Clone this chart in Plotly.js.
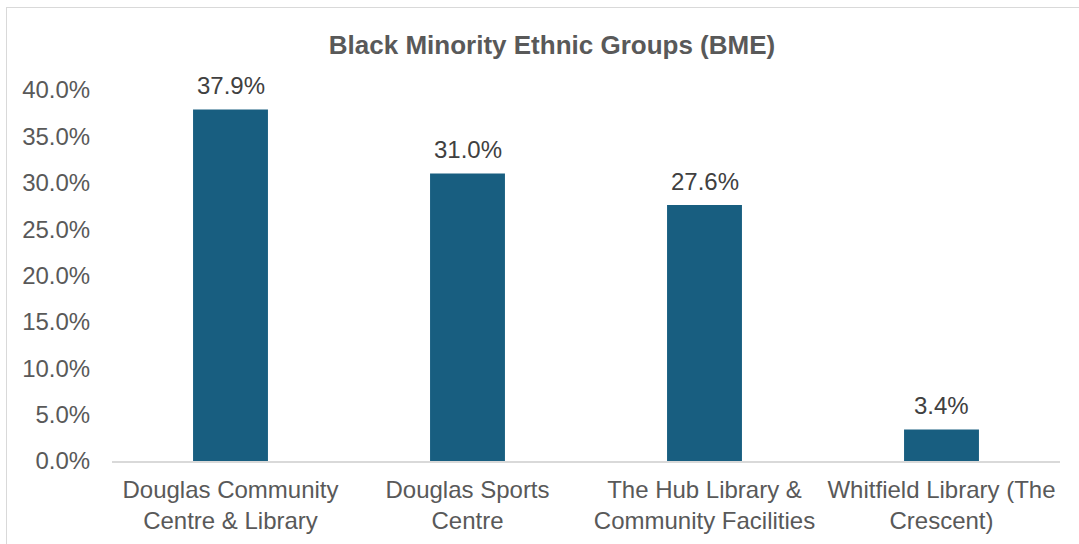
<!DOCTYPE html>
<html>
<head>
<meta charset="utf-8">
<script src="https://cdn.plot.ly/plotly-3.0.1.min.js"></script>
<style>
html,body{margin:0;padding:0;background:#fff;}
#wrap{position:relative;width:1079px;height:544px;overflow:hidden;}
#chart{position:absolute;left:0;top:0;width:1079px;height:544px;}
#frame{position:absolute;left:6px;top:7px;width:1200px;height:600px;border:1px solid #d9d9d9;pointer-events:none;}
</style>
</head>
<body>
<div id="wrap"><div id="chart"></div><div id="frame"></div></div>
<script>
const categories = ["Douglas Community<br>Centre & Library", "Douglas Sports<br>Centre", "The Hub Library &<br>Community Facilities", "Whitfield Library (The<br>Crescent)"];
const values = [37.9, 31.0, 27.6, 3.4];
const tickValues = [0, 5, 10, 15, 20, 25, 30, 35, 40];
const tickLabels = ["0.0%", "5.0%", "10.0%", "15.0%", "20.0%", "25.0%", "30.0%", "35.0%", "40.0%"];
const chartTitle = "Black Minority Ethnic Groups (BME)";

const font = "Liberation Sans, Arial, sans-serif";

const trace = {
  type: "bar",
  x: categories,
  y: values,
  marker: {color: "#185e80"},
  hoverinfo: "none"
};

const annotations = values.map((v, i) => ({
  x: categories[i], y: v, xref: "x", yref: "y",
  text: v.toFixed(1) + "%",
  showarrow: false, yanchor: "bottom", yshift: 8,
  font: {family: font, size: 24, color: "#404040"}
}));

const layout = {
  width: 1079, height: 544,
  margin: {l: 112, r: 19, t: 90, b: 83, pad: 0},
  paper_bgcolor: "rgba(0,0,0,0)",
  plot_bgcolor: "rgba(0,0,0,0)",
  bargap: 0.684,
  showlegend: false,
  title: {
    text: "<b>" + chartTitle + "</b>",
    font: {family: font, size: 26, color: "#595959"},
    x: 552 / 1079, xref: "container", xanchor: "center",
    y: 1 - 45 / 544, yref: "container", yanchor: "middle"
  },
  xaxis: {
    showline: true, linecolor: "#d9d9d9", linewidth: 2,
    showgrid: false, zeroline: false,
    ticks: "outside", ticklen: 6, tickcolor: "rgba(0,0,0,0)",
    tickfont: {family: font, size: 24, color: "#595959"}
  },
  yaxis: {
    range: [0, 40], showline: false, showgrid: false, zeroline: false,
    tickmode: "array", tickvals: tickValues, ticktext: tickLabels,
    ticks: "outside", ticklen: 16, tickcolor: "rgba(0,0,0,0)",
    tickfont: {family: font, size: 24, color: "#595959"}
  },
  annotations: annotations
};

Plotly.newPlot("chart", [trace], layout, {displayModeBar: false, staticPlot: true});
</script>
</body>
</html>
